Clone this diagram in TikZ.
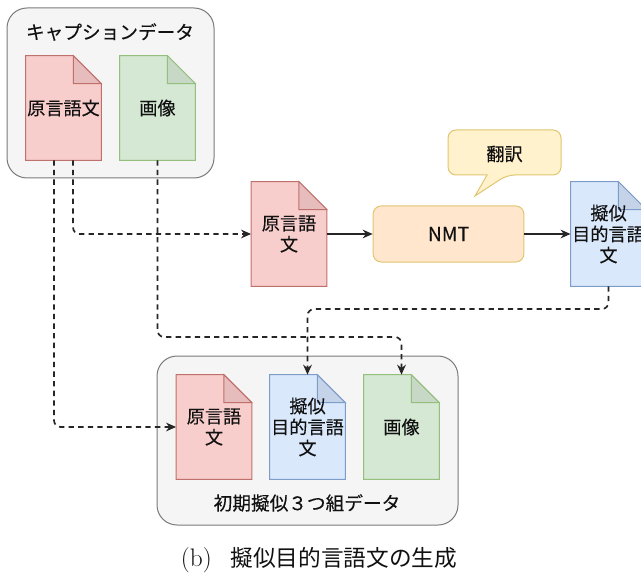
\documentclass[tikz,border=0pt]{standalone}
\usepackage{fontspec}
\setmainfont{Noto Sans CJK JP}[FakeBold=0.25]
\newfontfamily\plaincjk{Noto Sans CJK JP}
\newfontfamily\capfont{Latin Modern Roman}
\usetikzlibrary{arrows.meta,calc}
\definecolor{grayfill}{HTML}{F5F5F5}
\definecolor{grayline}{HTML}{7A7A7A}
\definecolor{redfill}{HTML}{F8CECC}
\definecolor{redline}{HTML}{C0706C}
\definecolor{redfold}{HTML}{E6BDBC}
\definecolor{greenfill}{HTML}{D5E8D4}
\definecolor{greenline}{HTML}{94BF7C}
\definecolor{greenfold}{HTML}{C8D8C6}
\definecolor{bluefill}{HTML}{DAE8FC}
\definecolor{blueline}{HTML}{7E9CC8}
\definecolor{bluefold}{HTML}{C5D3E9}
\definecolor{yellowfill}{HTML}{FFF2CC}
\definecolor{yellowline}{HTML}{E0C670}
\definecolor{orangefill}{HTML}{FFE6CC}
\definecolor{inkc}{HTML}{111111}
\tikzset{
  x=0.75pt,y=-0.75pt,
  every node/.style={font=\fontsize{13.6}{15.75}\selectfont,text=inkc,align=center,inner sep=0pt},
  titletext/.style={font=\fontsize{14}{16}\selectfont},
  groupbox/.style={draw=grayline,fill=grayfill,line width=0.75pt,rounded corners=15pt},
  docbox/.style={minimum width=56.5pt,minimum height=78pt},
  flow/.style={draw=black!85,line width=1.25pt,dash pattern=on 4pt off 3.2pt,rounded corners=5pt,-{Stealth[length=7.5pt,width=6.5pt]}},
  solidflow/.style={draw=black!85,line width=1.25pt,-{Stealth[length=7.5pt,width=6.5pt]}},
}
% name, centre x, centre y, colour prefix, text
\newcommand{\docshape}[5]{%
  \node[docbox] (#1) at (#2,#3) {};
  \draw[draw=#4line,fill=#4fill,line width=0.75pt]
    (#1.north west) -- ($(#1.north east)+(-28,0)$) -- ($(#1.north east)+(0,28)$)
    -- (#1.south east) -- (#1.south west) -- cycle;
  \draw[draw=#4line,fill=#4fold,line width=0.75pt]
    ($(#1.north east)+(-28,0)$) -- ($(#1.north east)+(-28,28)$) -- ($(#1.north east)+(0,28)$) -- cycle;
  \node at (#1.center) {#5};
}
\begin{document}
\begin{tikzpicture}
\useasboundingbox (0,0) rectangle (641,573);
\clip (0,0) rectangle (641,573);

\draw[groupbox] (7,8) rectangle (214,178);
\node[titletext] (captitle) at (110,32) {キャプションデータ};
\docshape{capsrc}{63.5}{108}{red}{原言語文}
\docshape{capimg}{157.5}{108}{green}{画像}

\docshape{midsrc}{289}{234}{red}{原言語\\文}
\node[draw=yellowline,fill=orangefill,line width=0.75pt,rounded corners=6pt,minimum width=113pt,minimum height=42pt] (nmt) at (448.5,234) {\fontsize{14.5}{16}\selectfont NMT};
\docshape{pseudo}{608.5}{234}{blue}{擬似\\目的言語\\文}

\draw[draw=yellowline,fill=yellowfill,line width=0.75pt,rounded corners=6pt]
  (448,130) -- (561,130) -- (561,175) -- (507,175)
  [sharp corners] -- (475,196) -- (487,175) [rounded corners=6pt] -- (448,175) -- cycle;
\node (transl) at (504.5,154) {翻訳};

\draw[groupbox] (157,356) rectangle (458,525);
\docshape{outsrc}{214}{427}{red}{原言語\\文}
\docshape{outpse}{307.5}{427}{blue}{擬似\\目的言語\\文}
\docshape{outimg}{401.5}{427}{green}{画像}
\node[titletext] (outtitle) at (307,503) {初期擬似３つ組データ};

\coordinate (laneA) at (0,337);
\coordinate (laneB) at (0,309);

\draw[flow] ([xshift=-9.5*0.75pt]capsrc.south) |- (outsrc.west);
\draw[flow] ([xshift=9.5*0.75pt]capsrc.south) |- (midsrc.west);
\draw[flow] (capimg.south) -- (capimg.south |- laneA) -- (outimg.north |- laneA) -- (outimg.north);
\draw[flow] (pseudo.south) -- (pseudo.south |- laneB) -- (outpse.north |- laneB) -- (outpse.north);
\draw[solidflow] (midsrc.east) -- (nmt.west);
\draw[solidflow] (nmt.east) -- (pseudo.west);

\node[font=\fontsize{17}{20}\selectfont] (caption) at (319,560) {{\capfont\fontsize{19}{20}\selectfont (b)}\hspace{14pt}{\plaincjk 擬似目的言語文の生成}};
\end{tikzpicture}
\end{document}
